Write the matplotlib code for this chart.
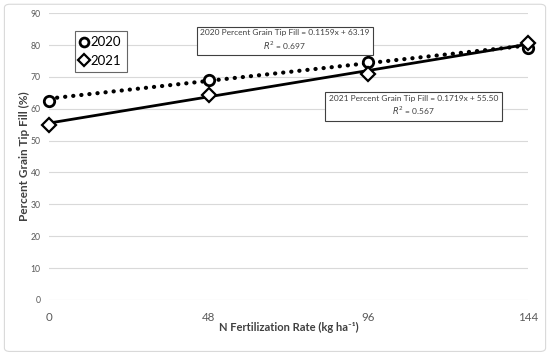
import matplotlib
matplotlib.use("Agg")
import matplotlib.pyplot as plt
from matplotlib.patches import FancyBboxPatch
import numpy as np

plt.rcParams['font.family'] = ['Lato', 'DejaVu Sans']

n_rate = [0, 48, 96, 144]
tip_fill_2020 = [62.5, 69.0, 74.6, 79.2]
tip_fill_2021 = [54.8, 64.3, 70.8, 80.5]
fit_2020 = (0.1159, 63.19)
fit_2021 = (0.1719, 55.50)
r2_2020 = 0.697
r2_2021 = 0.567
y_ticks = list(range(0, 100, 10))

fig = plt.figure(figsize=(5.5, 3.55), dpi=100)
fig.patches.append(FancyBboxPatch((0.008, 0.01), 0.984, 0.978, boxstyle="round,pad=0,rounding_size=0.01",
                                  transform=fig.transFigure, fill=False, edgecolor='#d9d9d9', lw=0.8))
ax = fig.add_axes([0.089, 0.155, 0.871, 0.808])

xs = np.array([n_rate[0], n_rate[-1]])
ax.plot(xs, fit_2020[0] * xs + fit_2020[1], color='black', lw=3.0, ls=(0, (0.05, 1.9)),
        dash_capstyle='round', clip_on=False, zorder=3)
ax.plot(xs, fit_2021[0] * xs + fit_2021[1], color='black', lw=2.0, clip_on=False, zorder=3)

ax.plot(n_rate, tip_fill_2020, ls='none', marker='o', ms=7.5, mfc='white', mec='black', mew=2,
        clip_on=False, zorder=4, label='2020')
ax.plot(n_rate, tip_fill_2021, ls='none', marker='D', ms=6.8, mfc='white', mec='black', mew=1.6,
        clip_on=False, zorder=4, label='2021')

ax.set_xlim(0, 144)
ax.set_ylim(0, 90)
ax.set_xticks(n_rate)
ax.set_yticks(y_ticks)
ax.tick_params(axis='x', length=0, pad=9, labelsize=8.3, labelcolor='#595959')
ax.tick_params(axis='y', length=0, pad=6, labelsize=6.2, labelcolor='#595959')
ax.grid(axis='y', color='#d9d9d9', lw=0.8)
ax.set_axisbelow(True)
for s in ax.spines.values():
    s.set_visible(False)

ax.set_xlabel('N Fertilization Rate (kg ha\u207b\u00b9)', fontsize=8.0, fontweight='bold', color='#404040', labelpad=-1)
ax.set_ylabel('Percent Grain Tip Fill (%)', fontsize=8.5, fontweight='bold', color='#404040', labelpad=0.5)

leg = ax.legend(loc='upper left', bbox_to_anchor=(0.054, 0.937), borderaxespad=0, fontsize=9.5, frameon=True,
                fancybox=False, edgecolor='#404040', handlelength=0.6, handletextpad=0.2,
                borderpad=0.4, labelspacing=0.5, markerscale=0.85)
leg.get_frame().set_linewidth(0.8)

box = dict(boxstyle='square,pad=0.4', fc='white', ec='#404040', lw=0.8)
ax.text(0.492, 0.904, f"2020 Percent Grain Tip Fill = {fit_2020[0]:.4f}x + {fit_2020[1]:.2f}\n$R^2$ = {r2_2020:.3f}",
        transform=ax.transAxes, ha='center', va='center', fontsize=6.0, color='#404040',
        linespacing=1.3, multialignment='center', bbox=box, zorder=5)
ax.text(0.761, 0.676, f"2021 Percent Grain Tip Fill = {fit_2021[0]:.4f}x + {fit_2021[1]:.2f}\n$R^2$ = {r2_2021:.3f}",
        transform=ax.transAxes, ha='center', va='center', fontsize=6.0, color='#404040',
        linespacing=1.3, multialignment='center', bbox=box, zorder=5)

fig.savefig('out.png', dpi=100)
